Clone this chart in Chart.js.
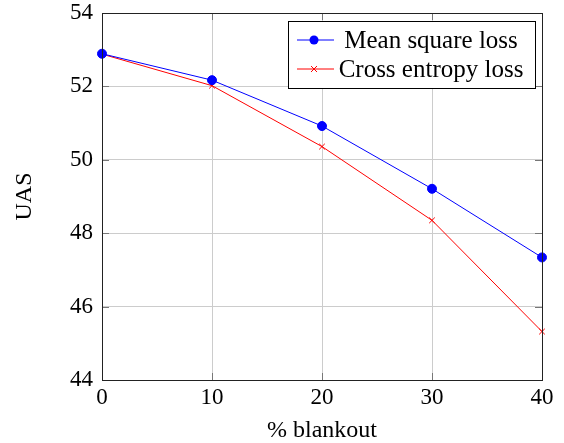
<!DOCTYPE html>
<html>
<head>
<meta charset="utf-8">
<script src="https://cdn.jsdelivr.net/npm/chart.js@4.4.1/dist/chart.umd.min.js"></script>
<style>
  html, body { margin: 0; padding: 0; background: #fff; }
  #wrap { width: 564px; height: 443px; }
</style>
</head>
<body>
<div id="wrap"><canvas id="chart" width="564" height="443"></canvas></div>
<script>
// data
const blankout = [0, 10, 20, 30, 40];
const meanSquare = [52.89, 52.17, 50.92, 49.21, 47.34];
const crossEntropy = [52.88, 52.02, 50.36, 48.35, 45.32];
const xTicks = [0, 10, 20, 30, 40];
const yTicks = [44, 46, 48, 50, 52, 54];

const SERIF = "'Liberation Serif', 'Times New Roman', serif";

// box round the plot + small inward tick marks (pgfplots look)
const frame = {
  id: "frame",
  afterDatasetsDraw(chart) {
    const { ctx, chartArea: a, scales } = chart;
    ctx.save();
    ctx.strokeStyle = "#777";
    ctx.lineWidth = 1;
    ctx.beginPath();
    xTicks.forEach(v => {
      const px = Math.round(scales.x.getPixelForValue(v)) + 0.5;
      ctx.moveTo(px, a.bottom); ctx.lineTo(px, a.bottom - 7);
      ctx.moveTo(px, a.top); ctx.lineTo(px, a.top + 7);
    });
    yTicks.forEach(v => {
      const py = Math.round(scales.y.getPixelForValue(v)) + 0.5;
      ctx.moveTo(a.left, py); ctx.lineTo(a.left + 7, py);
      ctx.moveTo(a.right, py); ctx.lineTo(a.right - 7, py);
    });
    ctx.stroke();
    ctx.strokeStyle = "#222";
    ctx.strokeRect(Math.round(a.left) + 0.5, Math.round(a.top) + 0.5,
                   Math.round(a.right - a.left), Math.round(a.bottom - a.top));
    ctx.restore();
  }
};

// legend box inside the plot, top right
const boxLegend = {
  id: "boxLegend",
  afterDraw(chart) {
    const { ctx, chartArea: a } = chart;
    const w = 247, h = 67;
    const x0 = a.right - 7 - w, y0 = a.top + 8;
    ctx.save();
    ctx.fillStyle = "#fff";
    ctx.fillRect(x0, y0, w, h);
    ctx.strokeStyle = "#000";
    ctx.lineWidth = 1;
    ctx.strokeRect(Math.round(x0) + 0.5, Math.round(y0) + 0.5, w, h);
    ctx.font = "25px " + SERIF;
    ctx.textBaseline = "middle";
    chart.data.datasets.forEach((ds, i) => {
      const cy = y0 + 19 + i * 29;
      ctx.strokeStyle = ds.borderColor;
      ctx.lineWidth = 1;
      ctx.beginPath();
      ctx.moveTo(x0 + 9, cy); ctx.lineTo(x0 + 46, cy);
      ctx.stroke();
      const mx = x0 + 26;
      if (ds.pointStyle === "circle") {
        ctx.fillStyle = ds.pointBackgroundColor;
        ctx.beginPath(); ctx.arc(mx, cy, 4.5, 0, Math.PI * 2); ctx.fill();
      } else {
        ctx.beginPath();
        ctx.moveTo(mx - 3, cy - 3); ctx.lineTo(mx + 3, cy + 3);
        ctx.moveTo(mx + 3, cy - 3); ctx.lineTo(mx - 3, cy + 3);
        ctx.stroke();
      }
      ctx.fillStyle = "#000";
      ctx.textAlign = "center";
      ctx.fillText(ds.label, x0 + 143, cy + 1);
    });
    ctx.restore();
  }
};

new Chart(document.getElementById("chart"), {
  type: "line",
  data: {
    datasets: [
      {
        label: "Mean square loss",
        data: blankout.map((x, i) => ({ x, y: meanSquare[i] })),
        borderColor: "#0000ff",
        backgroundColor: "#0000ff",
        pointBackgroundColor: "#0000ff",
        pointBorderColor: "#0000ff",
        pointStyle: "circle",
        pointRadius: 4.5,
        borderWidth: 1,
        tension: 0,
      },
      {
        label: "Cross entropy loss",
        data: blankout.map((x, i) => ({ x, y: crossEntropy[i] })),
        borderColor: "#ff0000",
        backgroundColor: "#ff0000",
        pointBorderColor: "#ff0000",
        pointStyle: "crossRot",
        pointRadius: 4,
        pointBorderWidth: 1,
        borderWidth: 1,
        tension: 0,
      },
    ],
  },
  options: {
    responsive: false,
    animation: false,
    clip: false,
    layout: { padding: { top: 0, right: 22, left: 0, bottom: 0 } },
    plugins: { legend: { display: false }, tooltip: { enabled: false } },
    scales: {
      x: {
        type: "linear",
        min: 0, max: 40,
        afterBuildTicks: (s) => { s.ticks = xTicks.map(v => ({ value: v })); },
        afterFit: (s) => { s.height = 63; },
        grid: { color: "#cccccc", drawTicks: false },
        border: { display: false },
        ticks: { color: "#000", padding: 4, maxRotation: 0, font: { family: SERIF, size: 23 } },
        title: { display: true, text: "% blankout", color: "#000", padding: { top: 4, bottom: -2 },
                 font: { family: SERIF, size: 24 } },
      },
      y: {
        min: 44, max: 54,
        afterBuildTicks: (s) => { s.ticks = yTicks.map(v => ({ value: v })); },
        afterFit: (s) => { s.width = 102; s.paddingTop = 13; s.paddingBottom = 0; },
        grid: { color: "#cccccc", drawTicks: false },
        border: { display: false },
        ticks: { color: "#000", padding: 9, font: { family: SERIF, size: 23 } },
        title: { display: true, text: "UAS", color: "#000", padding: { top: 10, bottom: 0 },
                 font: { family: SERIF, size: 24 } },
      },
    },
  },
  plugins: [frame, boxLegend],
});
</script>
</body>
</html>
